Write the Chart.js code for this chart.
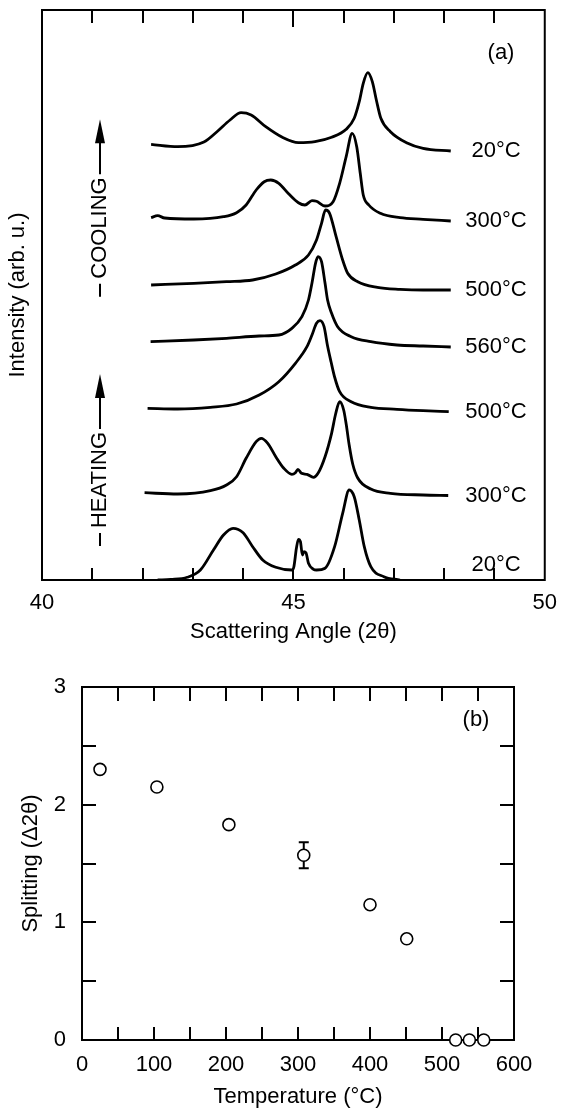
<!DOCTYPE html>
<html lang="en">

<head>
    <meta charset="UTF-8">
    <title>Peak splitting vs temperature</title>
    <script src="https://cdn.jsdelivr.net/npm/chart.js"></script>
    <style>
        html,
        body {
            margin: 0;
            padding: 0;
            background: #fff;
        }

        body {
            width: 567px;
            height: 1110px;
            position: relative;
            overflow: hidden;
        }

        .panel {
            position: absolute;
            left: 0;
        }

        #panelA {
            top: 0;
        }

        #panelB {
            top: 650px;
        }
    </style>
</head>

<body>
    <div class="panel" id="panelA"><canvas id="chartA" width="567" height="650"></canvas></div>
    <div class="panel" id="panelB"><canvas id="chartB" width="567" height="460"></canvas></div>

    <script>
        // ---- panel (a): diffraction traces (angle in 2theta, intensity offset per trace) ----
        const angleCool20 = [42.17, 42.70, 43.22, 43.48, 43.74, 43.96, 44.16, 44.45, 44.78, 45.10, 45.43, 45.76, 46.05, 46.21, 46.31, 46.39, 46.48, 46.57, 46.65, 46.74, 46.93, 47.25, 47.58, 48.13];
        const intCool20 = [43.57, 43.33, 43.8, 44.83, 46.0, 46.73, 46.5, 45.33, 44.27, 43.73, 43.83, 44.27, 45.07, 46.17, 47.83, 49.67, 50.73, 49.83, 48.0, 46.17, 44.83, 43.73, 43.17, 42.9];

        const angleCool300 = [42.17, 42.30, 42.44, 43.02, 43.61, 43.87, 44.06, 44.26, 44.42, 44.55, 44.71, 44.91, 45.10, 45.23, 45.37, 45.46, 45.63, 45.79, 45.92, 46.05, 46.17, 46.26, 46.33, 46.39, 46.50, 46.73, 47.12, 47.58, 48.13];
        const intCool300 = [36.23, 36.43, 36.2, 36.1, 36.33, 36.73, 37.5, 39.0, 39.83, 40.0, 39.67, 38.6, 37.73, 37.5, 37.93, 37.87, 37.4, 37.83, 39.67, 42.33, 44.67, 43.33, 40.67, 38.5, 37.5, 36.67, 36.23, 36.07, 35.9];

        const angleCool500 = [42.17, 43.02, 43.67, 44.19, 44.65, 45.04, 45.30, 45.46, 45.56, 45.64, 45.72, 45.85, 45.98, 46.08, 46.28, 46.67, 47.12, 47.58, 48.13];
        const intCool500 = [29.5, 29.67, 29.83, 30.0, 30.6, 31.5, 32.5, 34.0, 35.67, 37.0, 36.67, 34.33, 32.0, 30.67, 29.83, 29.27, 29.07, 29.0, 29.0];

        const angle560 = [42.16, 43.02, 43.67, 44.32, 44.71, 44.97, 45.17, 45.30, 45.37, 45.44, 45.49, 45.56, 45.63, 45.68, 45.76, 45.88, 46.15, 46.54, 47.06, 47.58, 48.13];
        const int560 = [23.83, 24.0, 24.17, 24.4, 24.5, 25.17, 26.33, 28.0, 29.7, 31.67, 32.33, 31.83, 29.67, 28.0, 26.67, 25.33, 24.33, 23.83, 23.5, 23.4, 23.3];

        const angleHeat500 = [42.10, 42.70, 43.35, 43.87, 44.32, 44.71, 45.04, 45.27, 45.37, 45.46, 45.53, 45.61, 45.68, 45.75, 45.82, 45.92, 46.15, 46.54, 47.06, 47.58, 48.09];
        const intHeat500 = [17.17, 17.1, 17.27, 17.6, 18.5, 19.83, 21.67, 23.33, 24.5, 25.67, 25.93, 25.33, 23.4, 21.8, 20.3, 18.83, 17.83, 17.27, 17.07, 16.93, 16.83];

        const angleHeat300 = [42.04, 42.70, 43.35, 43.67, 43.87, 44.06, 44.26, 44.36, 44.49, 44.65, 44.81, 44.97, 45.04, 45.09, 45.16, 45.27, 45.40, 45.49, 45.63, 45.76, 45.84, 45.92, 46.00, 46.05, 46.11, 46.18, 46.28, 46.54, 46.93, 47.58, 48.08];
        const intHeat300 = [8.73, 8.6, 8.93, 9.5, 10.33, 12.17, 13.83, 14.17, 13.67, 12.33, 11.17, 10.57, 10.73, 11.07, 10.67, 10.57, 10.27, 10.67, 12.33, 14.67, 16.6, 17.83, 17.0, 15.6, 13.5, 11.6, 10.2, 9.1, 8.67, 8.5, 8.45];

        const angleHeat20 = [42.30, 42.56, 42.89, 43.15, 43.41, 43.61, 43.80, 44.00, 44.19, 44.39, 44.65, 44.97, 45.01, 45.06, 45.10, 45.14, 45.18, 45.21, 45.25, 45.30, 45.40, 45.46, 45.63, 45.82, 45.98, 46.11, 46.21, 46.31, 46.41, 46.54, 46.80, 47.12];
        const intHeat20 = [0, 0.05, 0.27, 1.0, 3.0, 4.5, 5.17, 4.73, 3.33, 2.0, 1.27, 1.0, 1.33, 3.17, 4.07, 3.83, 2.5, 2.83, 2.73, 1.67, 1.07, 1.0, 1.17, 3.33, 6.67, 9.0, 8.33, 6.0, 3.33, 1.33, 0.33, 0];

        const traceLabels = ['20°C', '300°C', '500°C', '560°C', '500°C', '300°C', '20°C'];
        const angleTickLabels = [40, 45, 50];
        const angleMinorTicks = [41, 42, 43, 44, 45, 46, 47, 48, 49];

        // ---- panel (b): splitting vs temperature ----
        const temperature = [25, 104, 204, 308, 400, 451, 519, 538, 558];
        const splitting = [2.30, 2.15, 1.83, 1.57, 1.15, 0.86, 0, 0, 0];
        const splittingErr = [0, 0, 0, 0.11, 0, 0, 0, 0, 0];
        const tempTickLabels = [0, 100, 200, 300, 400, 500, 600];
        const splitTickLabels = [0, 1, 2, 3];
        const tempMinorTicks = [50, 100, 150, 200, 250, 300, 350, 400, 450, 500, 550];
        const splitMinorTicks = [0.5, 1, 1.5, 2, 2.5];

        const FONT = '"Liberation Sans", Arial, Helvetica, sans-serif';
        const FONT_SIZE = 22;
        Chart.defaults.font.family = FONT;
        Chart.defaults.font.size = FONT_SIZE;
        Chart.defaults.color = '#000';

        function points(xs, ys) {
            return xs.map((x, i) => ({ x: x, y: ys[i] }));
        }

        // frame + inward tick marks
        const framePlugin = {
            id: 'frame',
            beforeDatasetsDraw(chart, args, o) {
                const { ctx, chartArea: a, scales: { x, y } } = chart;
                ctx.save();
                ctx.strokeStyle = '#000';
                ctx.lineWidth = 2;
                ctx.strokeRect(a.left, a.top, a.right - a.left, a.bottom - a.top);
                ctx.beginPath();
                (o.xTicks || []).forEach(v => {
                    const px = Math.round(x.getPixelForValue(v));
                    const top = (o.longTop && o.longTop.includes(v)) ? o.longLen : o.topLen;
                    ctx.moveTo(px, a.top);
                    ctx.lineTo(px, a.top + top);
                    ctx.moveTo(px, a.bottom);
                    ctx.lineTo(px, a.bottom - o.bottomLen);
                });
                (o.yTicks || []).forEach(v => {
                    const py = Math.round(y.getPixelForValue(v));
                    ctx.moveTo(a.left, py);
                    ctx.lineTo(a.left + o.sideLen, py);
                    ctx.moveTo(a.right, py);
                    ctx.lineTo(a.right - o.sideLen, py);
                });
                ctx.stroke();
                ctx.restore();
            }
        };

        // rotated side note with dash before and arrow after the word
        function sideNote(ctx, text, cx, cy) {
            ctx.save();
            ctx.translate(cx, cy);
            ctx.rotate(-Math.PI / 2);
            ctx.textAlign = 'center';
            ctx.textBaseline = 'middle';
            ctx.fillText(text, 0, 0);
            const half = ctx.measureText(text).width / 2;
            ctx.lineWidth = 2;
            ctx.beginPath();
            ctx.moveTo(-half - 5, 0);
            ctx.lineTo(-half - 18, 0);
            ctx.moveTo(half + 3, 0);
            ctx.lineTo(half + 36, 0);
            ctx.stroke();
            ctx.beginPath();
            ctx.moveTo(half + 58, 0);
            ctx.lineTo(half + 34, -5);
            ctx.lineTo(half + 34, 5);
            ctx.closePath();
            ctx.fill();
            ctx.restore();
        }

        const notesA = {
            id: 'notesA',
            afterDraw(chart) {
                const { ctx, chartArea: a, scales: { y } } = chart;
                ctx.save();
                ctx.fillStyle = '#000';
                ctx.strokeStyle = '#000';
                ctx.font = FONT_SIZE + 'px ' + FONT;
                ctx.textAlign = 'center';
                ctx.textBaseline = 'middle';
                chart.data.datasets.forEach(ds => {
                    const last = ds.data[ds.data.length - 1];
                    const py = Math.min(y.getPixelForValue(last.y), a.bottom - 15);
                    ctx.fillText(ds.label, 496, py);
                });
                ctx.fillText('(a)', 501, 53);
                sideNote(ctx, 'COOLING', 100, 228);
                sideNote(ctx, 'HEATING', 100, 480);
                ctx.restore();
            }
        };

        const errorBars = {
            id: 'errorBars',
            beforeDatasetsDraw(chart) {
                const { ctx, scales: { x, y } } = chart;
                ctx.save();
                ctx.strokeStyle = '#000';
                ctx.lineWidth = 2;
                ctx.beginPath();
                temperature.forEach((t, i) => {
                    const e = splittingErr[i];
                    if (!e) return;
                    const px = x.getPixelForValue(t);
                    const hi = y.getPixelForValue(splitting[i] + e);
                    const lo = y.getPixelForValue(splitting[i] - e);
                    ctx.moveTo(px, hi); ctx.lineTo(px, lo);
                    ctx.moveTo(px - 5, hi); ctx.lineTo(px + 5, hi);
                    ctx.moveTo(px - 5, lo); ctx.lineTo(px + 5, lo);
                });
                ctx.stroke();
                ctx.restore();
            },
            afterDraw(chart) {
                const { ctx } = chart;
                ctx.save();
                ctx.fillStyle = '#000';
                ctx.font = FONT_SIZE + 'px ' + FONT;
                ctx.textAlign = 'center';
                ctx.textBaseline = 'middle';
                ctx.fillText('(b)', 476, 70);
                ctx.restore();
            }
        };

        const traces = [
            [angleCool20, intCool20], [angleCool300, intCool300], [angleCool500, intCool500],
            [angle560, int560], [angleHeat500, intHeat500], [angleHeat300, intHeat300],
            [angleHeat20, intHeat20]
        ];

        new Chart(document.getElementById('chartA'), {
            type: 'line',
            data: {
                datasets: traces.map((t, i) => ({
                    label: traceLabels[i],
                    data: points(t[0], t[1]),
                    borderColor: '#000',
                    borderWidth: 2.8,
                    pointRadius: 0,
                    fill: false,
                    cubicInterpolationMode: 'monotone'
                }))
            },
            options: {
                responsive: false,
                animation: false,
                events: [],
                layout: { padding: { left: 0, right: 13, top: 10, bottom: 0 } },
                plugins: {
                    legend: { display: false },
                    tooltip: { enabled: false },
                    frame: { xTicks: angleMinorTicks, topLen: 13, bottomLen: 12, longTop: [45], longLen: 17 }
                },
                scales: {
                    x: {
                        type: 'linear', min: 40, max: 50,
                        afterBuildTicks: s => { s.ticks = angleTickLabels.map(v => ({ value: v })); },
                        afterFit: s => { s.height = 70; },
                        grid: { display: false, drawTicks: false, tickLength: 0 },
                        border: { display: false },
                        ticks: { padding: 10, maxRotation: 0, autoSkip: false },
                        title: { display: true, text: 'Scattering Angle (2θ)', padding: { top: 0, bottom: 5 } }
                    },
                    y: {
                        type: 'linear', min: 0, max: 57,
                        afterFit: s => { s.width = 42; },
                        grid: { display: false, drawTicks: false, tickLength: 0 },
                        border: { display: false },
                        ticks: { display: false },
                        title: { display: true, text: 'Intensity (arb. u.)', padding: { top: 5, bottom: 0 } }
                    }
                }
            },
            plugins: [framePlugin, notesA]
        });

        new Chart(document.getElementById('chartB'), {
            type: 'scatter',
            data: {
                datasets: [{
                    label: 'Splitting',
                    data: points(temperature, splitting),
                    pointRadius: 6,
                    pointBorderWidth: 1.6,
                    pointBackgroundColor: '#fff',
                    pointBorderColor: '#000',
                    clip: false
                }]
            },
            options: {
                responsive: false,
                animation: false,
                events: [],
                layout: { padding: { left: 0, right: 53, top: 37, bottom: 0 } },
                plugins: {
                    legend: { display: false },
                    tooltip: { enabled: false },
                    frame: { xTicks: tempMinorTicks, yTicks: splitMinorTicks, topLen: 14, bottomLen: 13, sideLen: 14 }
                },
                scales: {
                    x: {
                        type: 'linear', min: 0, max: 600,
                        afterBuildTicks: s => { s.ticks = tempTickLabels.map(v => ({ value: v })); },
                        afterFit: s => { s.height = 70; },
                        grid: { display: false, drawTicks: false, tickLength: 0 },
                        border: { display: false },
                        ticks: { padding: 12, maxRotation: 0, autoSkip: false },
                        title: { display: true, text: 'Temperature (°C)', padding: { top: 0, bottom: 0 } }
                    },
                    y: {
                        type: 'linear', min: 0, max: 3,
                        afterBuildTicks: s => { s.ticks = splitTickLabels.map(v => ({ value: v })); },
                        afterFit: s => { s.width = 82; },
                        grid: { display: false, drawTicks: false, tickLength: 0 },
                        border: { display: false },
                        ticks: { padding: 16 },
                        title: { display: true, text: 'Splitting (Δ2θ)', padding: { top: 18, bottom: 0 } }
                    }
                }
            },
            plugins: [framePlugin, errorBars]
        });
    </script>
</body>

</html>
